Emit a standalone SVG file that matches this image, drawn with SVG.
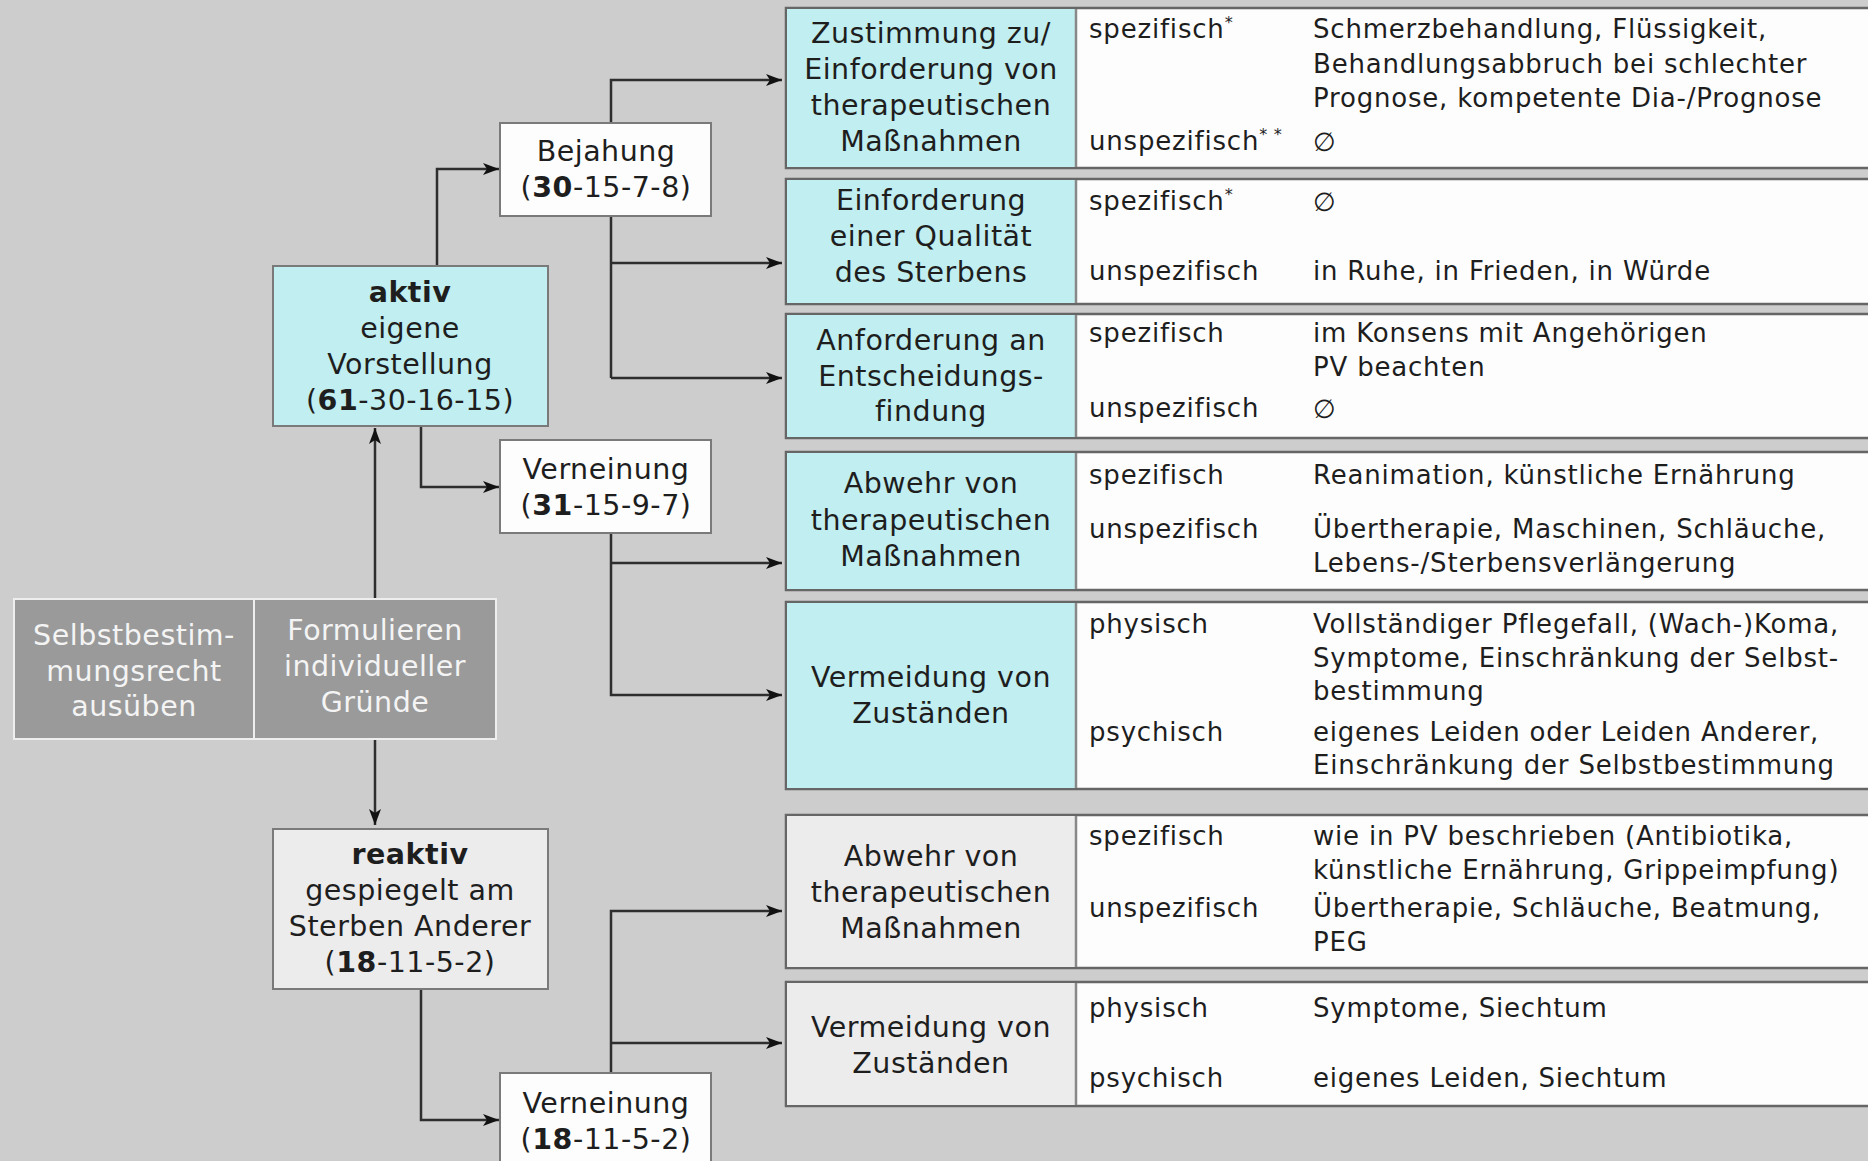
<svg xmlns="http://www.w3.org/2000/svg" width="1868" height="1161" viewBox="0 0 1868 1161">
<defs>
<style>
text{font-family:"DejaVu Sans","Liberation Sans",sans-serif;fill:#1e1e1e}
.c{font-size:28.5px;letter-spacing:0.5px;text-anchor:middle}
.t{font-size:26px;letter-spacing:0.8px}
.g{font-size:28.5px;letter-spacing:0.5px;text-anchor:middle;fill:#f4f4f4}
.b{font-weight:bold}
.row{fill:#fdfdfd;stroke:#666;stroke-width:2.5}
.cy{fill:#c1eef0}
.lg{fill:#ececec}
.div{stroke:#888;stroke-width:2.5}
.box{stroke:#7a7a7a;stroke-width:2}
.con{fill:none;stroke:#2e2e2e;stroke-width:2.5}
.sup{font-size:16px}
</style>
<marker id="ah" markerUnits="userSpaceOnUse" markerWidth="16" markerHeight="12" refX="16" refY="6" orient="auto">
<path d="M0,0 L16,6 L0,12 L4,6 z" fill="#111"/>
</marker>
</defs>
<rect width="1868" height="1161" fill="#cdcdcd"/>

<g id="connectors">
<path class="con" d="M437,266 V169 H499" marker-end="url(#ah)"/>
<path class="con" d="M421,426 V487 H499" marker-end="url(#ah)"/>
<path class="con" d="M375,599 V428" marker-end="url(#ah)"/>
<path class="con" d="M375,739 V825" marker-end="url(#ah)"/>
<path class="con" d="M611,378 V80 H782" marker-end="url(#ah)"/>
<path class="con" d="M611,263 H782" marker-end="url(#ah)"/>
<path class="con" d="M611,378 H782" marker-end="url(#ah)"/>
<path class="con" d="M611,533 V695 H782" marker-end="url(#ah)"/>
<path class="con" d="M611,563 H782" marker-end="url(#ah)"/>
<path class="con" d="M421,989 V1120 H499" marker-end="url(#ah)"/>
<path class="con" d="M611,1073 V911 H782" marker-end="url(#ah)"/>
<path class="con" d="M611,1043 H782" marker-end="url(#ah)"/>
</g>

<g id="gruende">
<rect x="14" y="599" width="240" height="140" fill="#9a9a9a" stroke="#eeeeee" stroke-width="2"/>
<rect x="254" y="599" width="242" height="140" fill="#9a9a9a" stroke="#eeeeee" stroke-width="2"/>
<text class="g" x="134" y="645">Selbstbestim-</text>
<text class="g" x="134" y="681">mungsrecht</text>
<text class="g" x="134" y="716">ausüben</text>
<text class="g" x="375" y="640">Formulieren</text>
<text class="g" x="375" y="676">individueller</text>
<text class="g" x="375" y="712">Gründe</text>
</g>

<g id="aktiv">
<rect class="box cy" x="273" y="266" width="275" height="160"/>
<text class="c b" x="410" y="302">aktiv</text>
<text class="c" x="410" y="338">eigene</text>
<text class="c" x="410" y="374">Vorstellung</text>
<text class="c" x="410" y="410">(<tspan class="b">61</tspan>-30-16-15)</text>
</g>

<g id="bejahung">
<rect class="box" fill="#fdfdfd" x="500" y="123" width="211" height="93"/>
<text class="c" x="606" y="161">Bejahung</text>
<text class="c" x="606" y="197">(<tspan class="b">30</tspan>-15-7-8)</text>
</g>

<g id="verneinung1">
<rect class="box" fill="#fdfdfd" x="500" y="440" width="211" height="93"/>
<text class="c" x="606" y="479">Verneinung</text>
<text class="c" x="606" y="515">(<tspan class="b">31</tspan>-15-9-7)</text>
</g>

<g id="reaktiv">
<rect class="box lg" x="273" y="829" width="275" height="160"/>
<text class="c b" x="410" y="864">reaktiv</text>
<text class="c" x="410" y="900">gespiegelt am</text>
<text class="c" x="410" y="936">Sterben Anderer</text>
<text class="c" x="410" y="972">(<tspan class="b">18</tspan>-11-5-2)</text>
</g>

<g id="verneinung2">
<rect class="box" fill="#fdfdfd" x="500" y="1073" width="211" height="100"/>
<text class="c" x="606" y="1113">Verneinung</text>
<text class="c" x="606" y="1149">(<tspan class="b">18</tspan>-11-5-2)</text>
</g>

<g id="row1">
<rect class="row" x="786" y="8" width="1100" height="160"/>
<rect class="cy" x="787" y="9" width="289" height="158"/>
<line class="div" x1="1076" y1="9" x2="1076" y2="167"/>
<text class="c" x="931" y="43">Zustimmung zu/</text>
<text class="c" x="931" y="79">Einforderung von</text>
<text class="c" x="931" y="115">therapeutischen</text>
<text class="c" x="931" y="151">Maßnahmen</text>
<text class="t" x="1089" y="38">spezifisch<tspan class="sup" dy="-10">*</tspan></text>
<text class="t" x="1089" y="150">unspezifisch<tspan class="sup" dy="-10">* *</tspan></text>
<text class="t" x="1313" y="38">Schmerzbehandlung, Flüssigkeit,</text>
<text class="t" x="1313" y="73">Behandlungsabbruch bei schlechter</text>
<text class="t" x="1313" y="107">Prognose, kompetente Dia-/Prognose</text>
<text class="t" x="1313" y="151">∅</text>
</g>

<g id="row2">
<rect class="row" x="786" y="179" width="1100" height="125"/>
<rect class="cy" x="787" y="180" width="289" height="123"/>
<line class="div" x1="1076" y1="180" x2="1076" y2="303"/>
<text class="c" x="931" y="210">Einforderung</text>
<text class="c" x="931" y="246">einer Qualität</text>
<text class="c" x="931" y="282">des Sterbens</text>
<text class="t" x="1089" y="210">spezifisch<tspan class="sup" dy="-10">*</tspan></text>
<text class="t" x="1089" y="280">unspezifisch</text>
<text class="t" x="1313" y="211">∅</text>
<text class="t" x="1313" y="280">in Ruhe, in Frieden, in Würde</text>
</g>

<g id="row3">
<rect class="row" x="786" y="314" width="1100" height="124"/>
<rect class="cy" x="787" y="315" width="289" height="122"/>
<line class="div" x1="1076" y1="315" x2="1076" y2="437"/>
<text class="c" x="931" y="350">Anforderung an</text>
<text class="c" x="931" y="386">Entscheidungs-</text>
<text class="c" x="931" y="421">findung</text>
<text class="t" x="1089" y="342">spezifisch</text>
<text class="t" x="1089" y="417">unspezifisch</text>
<text class="t" x="1313" y="342">im Konsens mit Angehörigen</text>
<text class="t" x="1313" y="376">PV beachten</text>
<text class="t" x="1313" y="418">∅</text>
</g>

<g id="row4">
<rect class="row" x="786" y="452" width="1100" height="138"/>
<rect class="cy" x="787" y="453" width="289" height="136"/>
<line class="div" x1="1076" y1="453" x2="1076" y2="589"/>
<text class="c" x="931" y="493">Abwehr von</text>
<text class="c" x="931" y="530">therapeutischen</text>
<text class="c" x="931" y="566">Maßnahmen</text>
<text class="t" x="1089" y="484">spezifisch</text>
<text class="t" x="1089" y="538">unspezifisch</text>
<text class="t" x="1313" y="484">Reanimation, künstliche Ernährung</text>
<text class="t" x="1313" y="538">Übertherapie, Maschinen, Schläuche,</text>
<text class="t" x="1313" y="572">Lebens-/Sterbensverlängerung</text>
</g>

<g id="row5">
<rect class="row" x="786" y="602" width="1100" height="187"/>
<rect class="cy" x="787" y="603" width="289" height="185"/>
<line class="div" x1="1076" y1="603" x2="1076" y2="788"/>
<text class="c" x="931" y="687">Vermeidung von</text>
<text class="c" x="931" y="723">Zuständen</text>
<text class="t" x="1089" y="633">physisch</text>
<text class="t" x="1089" y="741">psychisch</text>
<text class="t" x="1313" y="633">Vollständiger Pflegefall, (Wach-)Koma,</text>
<text class="t" x="1313" y="667">Symptome, Einschränkung der Selbst-</text>
<text class="t" x="1313" y="700">bestimmung</text>
<text class="t" x="1313" y="741">eigenes Leiden oder Leiden Anderer,</text>
<text class="t" x="1313" y="774">Einschränkung der Selbstbestimmung</text>
</g>

<g id="row6">
<rect class="row" x="786" y="815" width="1100" height="153"/>
<rect class="lg" x="787" y="816" width="289" height="151"/>
<line class="div" x1="1076" y1="816" x2="1076" y2="967"/>
<text class="c" x="931" y="866">Abwehr von</text>
<text class="c" x="931" y="902">therapeutischen</text>
<text class="c" x="931" y="938">Maßnahmen</text>
<text class="t" x="1089" y="845">spezifisch</text>
<text class="t" x="1089" y="917">unspezifisch</text>
<text class="t" x="1313" y="845">wie in PV beschrieben (Antibiotika,</text>
<text class="t" x="1313" y="879">künstliche Ernährung, Grippeimpfung)</text>
<text class="t" x="1313" y="917">Übertherapie, Schläuche, Beatmung,</text>
<text class="t" x="1313" y="951">PEG</text>
</g>

<g id="row7">
<rect class="row" x="786" y="982" width="1100" height="124"/>
<rect class="lg" x="787" y="983" width="289" height="122"/>
<line class="div" x1="1076" y1="983" x2="1076" y2="1105"/>
<text class="c" x="931" y="1037">Vermeidung von</text>
<text class="c" x="931" y="1073">Zuständen</text>
<text class="t" x="1089" y="1017">physisch</text>
<text class="t" x="1089" y="1087">psychisch</text>
<text class="t" x="1313" y="1017">Symptome, Siechtum</text>
<text class="t" x="1313" y="1087">eigenes Leiden, Siechtum</text>
</g>
</svg>
